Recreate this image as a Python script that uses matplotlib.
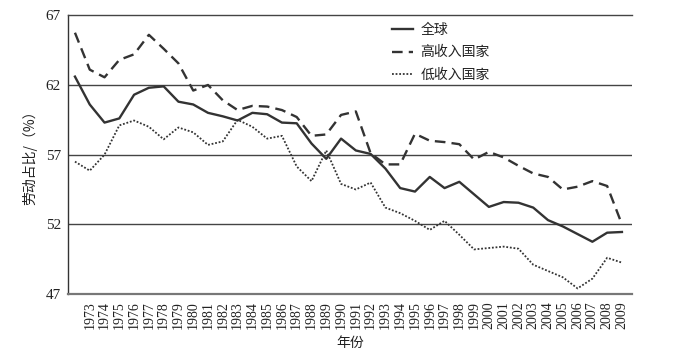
import numpy as np
import matplotlib
matplotlib.use("Agg")
import matplotlib.pyplot as plt

# data (labour share, %)
years = list(range(1972, 2010))
tick_years = list(range(1973, 2010))

world = [62.6, 60.6, 59.3, 59.6, 61.3, 61.8, 61.9, 60.8, 60.6, 60.0,
         59.75, 59.45, 60.0, 59.9, 59.3, 59.25, 57.8, 56.7, 58.15, 57.3,
         57.05, 56.0, 54.6, 54.35, 55.4, 54.6, 55.05, 54.15, 53.25, 53.6,
         53.55, 53.2, 52.3, 51.85, 51.3, 50.75, 51.4, 51.45]
high_income = [65.75, 63.1, 62.55, 63.8, 64.2, 65.6, 64.6, 63.55, 61.6, 62.0,
               60.9, 60.2, 60.5, 60.45, 60.2, 59.7, 58.35, 58.45, 59.85, 60.1,
               57.1, 56.3, 56.3, 58.5, 58.0, 57.9, 57.75, 56.65, 57.2, 56.8,
               56.2, 55.65, 55.4, 54.5, 54.7, 55.1, 54.75, 52.0]
low_income = [56.5, 55.85, 57.0, 59.1, 59.45, 59.0, 58.1, 58.95, 58.6, 57.7,
              57.95, 59.5, 59.0, 58.15, 58.35, 56.15, 55.1, 57.3, 54.9, 54.5,
              55.0, 53.2, 52.8, 52.25, 51.6, 52.25, 51.25, 50.2, 50.3, 50.4,
              50.25, 49.1, 48.65, 48.2, 47.4, 48.1, 49.6, 49.25]
y_ticks = [47, 52, 57, 62, 67]

cjk = ['Noto Sans CJK SC', 'DejaVu Sans']
serif = 'Liberation Serif'
ink = '#333333'

fig = plt.figure(figsize=(6.76, 3.54), dpi=100)
ax = fig.add_axes([0.1006, 0.1695, 0.8343, 0.7873])

ax.plot(years, world, color=ink, lw=1.7, label='全球')
ax.plot(years, high_income, color=ink, lw=1.7, dashes=(4.5, 2.6), label='高收入国家')
ax.plot(years, low_income, color=ink, lw=1.3, dashes=(1, 1), label='低收入国家')

ax.set_ylim(47, 67)
ax.set_xlim(1971.53, 2009.68)
ax.set_yticks(y_ticks)
ax.set_xticks(tick_years)
ax.set_xticklabels([str(y) for y in tick_years], rotation=90, fontsize=10, family=serif)
ax.set_yticklabels([str(v) for v in y_ticks], fontsize=11, family=serif)
ax.tick_params(axis='both', length=0, colors='#222222')
ax.tick_params(axis='y', pad=5)
ax.tick_params(axis='x', pad=5)

for v in y_ticks[1:-1]:
    ax.axhline(v, color='#444444', lw=1.0, zorder=1)

ax.spines['right'].set_visible(False)
ax.spines['top'].set_color('#444444')
ax.spines['top'].set_linewidth(1.0)
ax.spines['left'].set_color('#333333')
ax.spines['left'].set_linewidth(1.0)
ax.spines['bottom'].set_color('#777777')
ax.spines['bottom'].set_linewidth(1.6)

ax.set_ylabel('劳动占比/（%）', family=cjk, fontsize=10, color='#222222')
ax.yaxis.set_label_coords(-0.055, 0.5)
ax.set_xlabel('年份', family=cjk, fontsize=10, color='#222222')
ax.xaxis.set_label_coords(0.5, -0.15)

leg = ax.legend(loc='upper left', bbox_to_anchor=(0.574, 0.972), frameon=False,
                prop={'family': cjk, 'size': 10}, handlelength=1.55,
                handletextpad=0.5, labelspacing=0.6, borderpad=0, borderaxespad=0)
for t in leg.get_texts():
    t.set_color('#222222')

fig.savefig('out.png', dpi=100)
